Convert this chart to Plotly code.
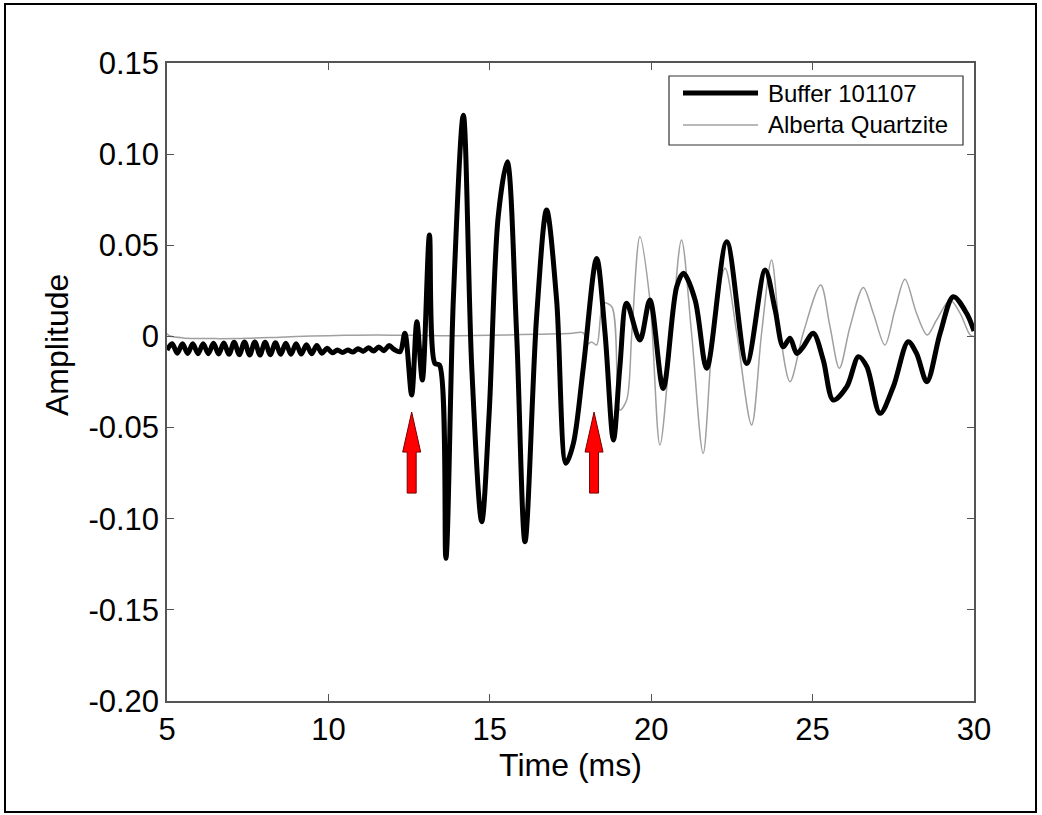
import plotly.graph_objects as go

# ---------------- data ----------------
series_names = ["Buffer 101107", "Alberta Quartzite"]

t_buffer = [5.00, 5.16, 5.32, 5.48, 5.64, 5.80, 5.96, 6.12, 6.28, 6.44, 6.60, 6.76,
            6.92, 7.08, 7.24, 7.40, 7.56, 7.72, 7.88, 8.04, 8.20, 8.36, 8.52, 8.68,
            8.84, 9.00, 9.16, 9.32, 9.48, 9.64, 9.80, 9.96, 10.12, 10.28, 10.44, 10.60,
            10.76, 10.92, 11.08, 11.24, 11.40, 11.56, 11.72, 11.88, 12.04,
            12.22, 12.37, 12.58, 12.74, 12.91, 13.13, 13.30, 13.44, 13.64, 13.87,
            14.18, 14.44, 14.75, 14.98, 15.26, 15.54, 15.83, 16.09, 16.45, 16.76,
            17.07, 17.36, 17.59, 17.90, 18.31, 18.57, 18.83, 19.03, 19.24, 19.65,
            19.96, 20.37, 20.79, 21.00, 21.36, 21.72, 22.34, 22.96, 23.53, 23.84,
            24.09, 24.30, 24.51, 24.71, 25.02, 25.33, 25.64, 26.06, 26.42, 26.68,
            27.09, 27.50, 27.96, 28.22, 28.54, 28.95, 29.36, 29.77, 30.00]
a_buffer = [-0.0075, -0.0040, -0.0092, -0.0040, -0.0093, -0.0040, -0.0095, -0.0040,
            -0.0095, -0.0038, -0.0096, -0.0036, -0.0098, -0.0032, -0.0100, -0.0030,
            -0.0102, -0.0030, -0.0102, -0.0032, -0.0100, -0.0035, -0.0098, -0.0038,
            -0.0098, -0.0040, -0.0097, -0.0045, -0.0095, -0.0050, -0.0092, -0.0065,
            -0.0090, -0.0075, -0.0088, -0.0074, -0.0086, -0.0068, -0.0082, -0.0062,
            -0.0080, -0.0058, -0.0078, -0.0050, -0.0072,
            -0.0084, 0.0017, -0.0321, 0.0081, -0.0239, 0.0556, -0.0148, -0.0157,
            -0.1217, 0.0200, 0.1214, -0.0166, -0.1016, -0.0422, 0.0657, 0.0958,
            0.0019, -0.1126, 0.0108, 0.0693, 0.0200, -0.0696, -0.0586, -0.0166,
            0.0428, 0.0017, -0.0568, -0.0166, 0.0182, -0.0020, 0.0200, -0.0285,
            0.0273, 0.0346, 0.0200, -0.0175, 0.0519, -0.0148, 0.0364, 0.0145,
            -0.0057, -0.0010, -0.0093, -0.0057, 0.0017, -0.0129, -0.0349, -0.0276,
            -0.0111, -0.0166, -0.0422, -0.0276, -0.0029, -0.0093, -0.0248, 0.0017,
            0.0218, 0.0127, 0.0030]

t_quartz = [5.00, 5.10, 5.50, 6.50, 7.50, 8.50, 9.50, 10.50, 11.50, 12.50, 13.50,
            14.50, 15.50, 16.50, 17.48, 17.90, 18.00, 18.15, 18.31, 18.52, 18.78,
            19.03, 19.24, 19.40, 19.65, 19.96, 20.27, 20.63, 20.94, 21.25, 21.61,
            21.92, 22.29, 22.65, 23.11, 23.42, 23.73, 23.99, 24.30, 24.71, 25.25,
            25.54, 25.83, 26.16, 26.57, 26.88, 27.24, 27.55, 27.86, 28.22, 28.55,
            28.84, 29.26, 29.57, 29.88, 30.00]
a_quartz = [0.0015, 0.0002, -0.0008, -0.0012, -0.0010, -0.0004, 0.0002, 0.0006,
            0.0008, 0.0006, 0.0004, 0.0005, 0.0008, 0.0012, 0.0016, 0.0020, -0.0045,
            -0.0030, -0.0047, 0.0182, 0.0163, -0.0404, -0.0349, 0.0019, 0.0547,
            0.0200, -0.0596, 0.0019, 0.0529, 0.0019, -0.0641, 0.0019, 0.0374,
            0.0019, -0.0486, 0.0019, 0.0419, 0.0019, -0.0248, 0.0019, 0.0282,
            0.0053, -0.0175, 0.0053, 0.0269, 0.0127, -0.0047, 0.0145, 0.0313,
            0.0127, 0.0008, 0.0090, 0.0200, 0.0127, 0.0008, 0.0000]

arrow_times = [12.58, 18.23]
arrow_tip_amp = [-0.0415, -0.0415]

x_ticks = [5, 10, 15, 20, 25, 30]
x_tick_labels = ["5", "10", "15", "20", "25", "30"]
y_ticks = [0.15, 0.10, 0.05, 0.0, -0.05, -0.10, -0.15, -0.20]
y_tick_labels = ["0.15", "0.10", "0.05", "0", "-0.05", "-0.10", "-0.15", "-0.20"]

# ---------------- figure ----------------
FONT = "Liberation Sans, Arial, Helvetica, sans-serif"
AX = "#555555"

fig = go.Figure()
fig.add_trace(go.Scatter(x=t_quartz, y=a_quartz, mode="lines", name=series_names[1],
                         line=dict(color="#a0a0a0", width=1.5, shape="spline", smoothing=0.9),
                         showlegend=False))
fig.add_trace(go.Scatter(x=t_buffer, y=a_buffer, mode="lines", name=series_names[0],
                         line=dict(color="#000000", width=5, shape="spline", smoothing=0.9),
                         showlegend=False))

L, R, T, B = 167, 68, 63, 114
W, H = 1042, 815
pw, ph = W - L - R, H - T - B


def px(xp):
    return (xp - L) / pw


def py(yp):
    return (H - B - yp) / ph


shapes = []
# red arrows, anchored at data positions, drawn in pixels
for at, aa in zip(arrow_times, arrow_tip_amp):
    shapes.append(dict(type="path", xref="x", yref="y", xsizemode="pixel", ysizemode="pixel",
                       xanchor=at, yanchor=aa,
                       path="M0,0 L-9,-40 L-4.5,-40 L-4.5,-81 L4.5,-81 L4.5,-40 L9,-40 Z",
                       fillcolor="#ff0000", line=dict(color="#7a0000", width=1)))

# outer figure frame
shapes.append(dict(type="rect", xref="paper", yref="paper",
                   x0=px(5), x1=px(1036), y0=py(812), y1=py(4),
                   line=dict(color="black", width=2), fillcolor="rgba(0,0,0,0)", layer="below"))

# custom legend
shapes.append(dict(type="rect", xref="paper", yref="paper",
                   x0=px(669), x1=px(963), y0=py(145), y1=py(76),
                   line=dict(color="#333333", width=1.2), fillcolor="white"))
shapes.append(dict(type="line", xref="paper", yref="paper",
                   x0=px(683), x1=px(758), y0=py(93), y1=py(93),
                   line=dict(color="black", width=5)))
shapes.append(dict(type="line", xref="paper", yref="paper",
                   x0=px(683), x1=px(758), y0=py(125), y1=py(125),
                   line=dict(color="#a0a0a0", width=1.5)))

annotations = [
    dict(text=series_names[0], xref="paper", yref="paper", x=px(766), y=py(93),
         xanchor="left", yanchor="middle", showarrow=False,
         font=dict(family=FONT, size=24, color="black")),
    dict(text=series_names[1], xref="paper", yref="paper", x=px(766), y=py(125),
         xanchor="left", yanchor="middle", showarrow=False,
         font=dict(family=FONT, size=24, color="black")),
    dict(text="Amplitude", xref="paper", yref="paper", x=px(57), y=py(345),
         xanchor="center", yanchor="middle", textangle=-90, showarrow=False,
         font=dict(family=FONT, size=32, color="black")),
]

axis_common = dict(showline=True, linecolor=AX, linewidth=1.5, mirror="ticks",
                   ticks="inside", ticklen=7, tickcolor=AX, tickwidth=1.2,
                   showgrid=False, zeroline=False,
                   tickfont=dict(family=FONT, size=31, color="black"))

fig.update_layout(
    width=W, height=H,
    margin=dict(l=L, r=R, t=T, b=B),
    paper_bgcolor="white", plot_bgcolor="white",
    shapes=shapes, annotations=annotations,
    xaxis=dict(range=[5, 30], tickvals=x_ticks, ticktext=x_tick_labels,
               title=dict(text="Time (ms)", font=dict(family=FONT, size=32, color="black"),
                          standoff=4),
               **axis_common),
    yaxis=dict(range=[-0.20, 0.15], tickvals=y_ticks, ticktext=y_tick_labels,
               **axis_common),
)

fig.write_html("out.html", config={"displayModeBar": False},
               post_script="document.body.style.margin='0';")
